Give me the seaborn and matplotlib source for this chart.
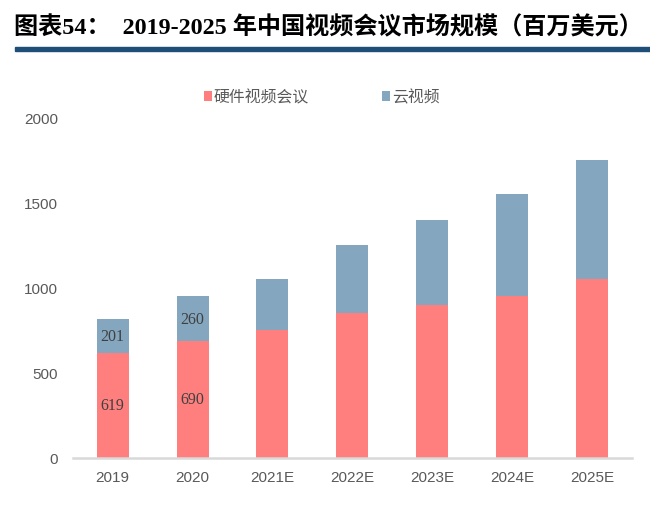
import matplotlib
matplotlib.use('Agg')
import pandas as pd
import seaborn as sns
import matplotlib.pyplot as plt
from matplotlib.patches import Rectangle

# chart data
years = ['2019', '2020', '2021E', '2022E', '2023E', '2024E', '2025E']
hardware = [619, 690, 750, 850, 900, 950, 1050]
cloud = [201, 260, 300, 400, 500, 600, 700]
labeled = ['2019', '2020']  # only these carry value labels

df = pd.DataFrame({'year': years, 'hardware': hardware, 'cloud': cloud})
df['total'] = df['hardware'] + df['cloud']

sns.set_theme(style='white')
plt.rcParams['font.family'] = ['Liberation Sans', 'Noto Sans CJK SC', 'DejaVu Sans']

red = '#FF7F7F'
blue = '#84A6BE'
grey = '#595959'

fig = plt.figure(figsize=(6.5, 5.1), dpi=100)
ax = fig.add_axes([0.112, 0.1, 0.86, 0.667])

# stacked bars: total first (cloud colour), hardware drawn on top
sns.barplot(data=df, x='year', y='total', color=blue, width=0.4, saturation=1,
            linewidth=0, ax=ax, label='云视频')
sns.barplot(data=df, x='year', y='hardware', color=red, width=0.4, saturation=1,
            linewidth=0, ax=ax, label='硬件视频会议')

ax.set_ylim(0, 2000)
ax.set_yticks([0, 500, 1000, 1500, 2000])
ax.set_xlabel('')
ax.set_ylabel('')
ax.tick_params(axis='both', colors=grey, labelsize=11, length=0)
ax.tick_params(axis='y', pad=10.5)
ax.tick_params(axis='x', pad=9)
for s in ['left', 'right', 'top']:
    ax.spines[s].set_visible(False)
ax.spines['bottom'].set_color('#D9D9D9')
ax.spines['bottom'].set_linewidth(1.8)

# value labels
for i, row in df.iterrows():
    if row['year'] in labeled:
        ax.text(i, row['hardware'] / 2, str(row['hardware']), ha='center', va='center',
                fontsize=11.5, color='#404040', family='Liberation Serif')
        ax.text(i, row['hardware'] + row['cloud'] / 2, str(row['cloud']), ha='center',
                va='center', fontsize=11.5, color='#404040', family='Liberation Serif')

handles, labels = ax.get_legend_handles_labels()
if ax.get_legend() is not None:
    ax.get_legend().remove()
order = [labels.index('硬件视频会议'), labels.index('云视频')]
fig.legend([handles[k] for k in order], [labels[k] for k in order],
           loc='center', bbox_to_anchor=(0.495, 0.808),
           ncol=2, frameon=False, fontsize=11.4, labelcolor=grey,
           handlelength=0.5, handleheight=0.5, handletextpad=0.15, columnspacing=4.6)

# title and rule
fig.text(0.022, 0.945, '图表54：  2019-2025 年中国视频会议市场规模（百万美元）',
         fontsize=17.4, fontweight='bold', color='black', va='center',
         family=['Liberation Serif', 'Noto Sans CJK SC'])
fig.patches.append(Rectangle((0.023, 0.898), 0.977, 0.008, transform=fig.transFigure,
                             color='#1F4E79', zorder=3))

fig.savefig('out.png', dpi=100)
